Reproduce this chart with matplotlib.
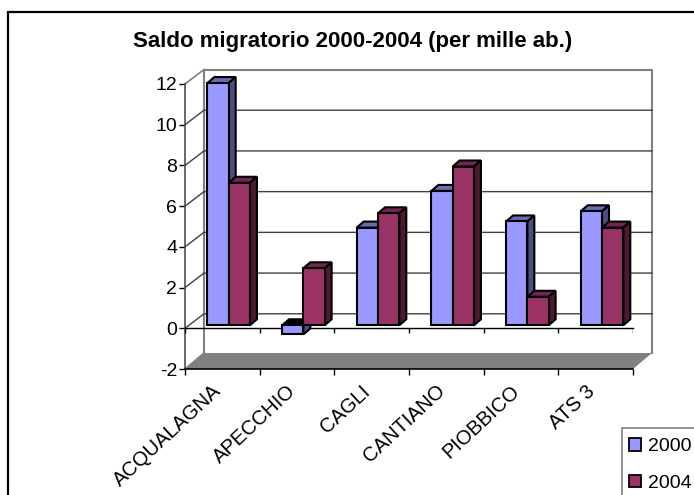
import matplotlib
matplotlib.use("Agg")
import matplotlib.pyplot as plt
from matplotlib.patches import Polygon, Rectangle, Patch

plt.rcParams['font.family'] = ['Liberation Sans', 'DejaVu Sans']
plt.rcParams['axes.unicode_minus'] = False

categories = ["ACQUALAGNA", "APECCHIO", "CAGLI", "CANTIANO", "PIOBBICO", "ATS 3"]
values_2000 = [11.9, -0.45, 4.8, 6.6, 5.1, 5.6]
values_2004 = [7.0, 2.8, 5.5, 7.8, 1.4, 4.8]
y_ticks = [-2, 0, 2, 4, 6, 8, 10, 12]

W, H = 694, 495
fig = plt.figure(figsize=(W / 100, H / 100), dpi=100, facecolor='white')

# outer chart frame, runs off the right and bottom edge
fig.add_artist(Rectangle((8 / W, -0.1), 1, 1.1 - 11.5 / H, transform=fig.transFigure,
                         fc='white', ec='black', lw=1.6, zorder=-1))

ax = fig.add_axes([185 / W, (H - 369) / H, 448 / W, 285 / H])
ax.set_xlim(0, 6)
ax.set_ylim(-2, 12)
ax.patch.set_alpha(0)
for s in ax.spines.values():
    s.set_visible(False)

# pixel sizes in data units
px = 6 / 448
py = 14 / 285
wall_dx, wall_dy = 19 * px, 14.5 * py
bar_dx, bar_dy = 7 * px, 6 * py
shift_y = 3 * py

# walls and floor
ax.add_patch(Polygon([(0, -2), (6, -2), (6 + wall_dx, -2 + 16 * py), (wall_dx, -2 + 16 * py)],
                     fc='#808080', ec='none', zorder=1, clip_on=False))
ax.plot([wall_dx, wall_dx, 6 + wall_dx, 6 + wall_dx],
        [-2 + 16 * py, 12 + wall_dy, 12 + wall_dy, -2 + 16 * py],
        color='#808080', lw=1.5, zorder=1, clip_on=False)
ax.plot([0, wall_dx], [12, 12 + wall_dy], color='#808080', lw=1.2, zorder=1, clip_on=False)
ax.plot([0, wall_dx], [-2, -2 + 16 * py], color='#808080', lw=1.2, zorder=1, clip_on=False)
for v in y_ticks[1:-1]:
    ax.plot([0, wall_dx, 6 + wall_dx], [v, v + wall_dy, v + wall_dy],
            color='#404040', lw=1, zorder=1, clip_on=False)

# front axes
ax.plot([0, 0], [-2, 12], color='#505050', lw=1.2, zorder=2, clip_on=False)
ax.plot([0, 6], [-2, -2], color='black', lw=1.2, zorder=2, clip_on=False)
ax.plot([0, 6], [0, 0], color='black', lw=1, zorder=2, clip_on=False)
ax.vlines(range(7), 0 - 5 * py, 0, color='black', lw=1, zorder=2)
ax.set_xticks(range(7))
ax.set_xticklabels([])
ax.set_xticks([i + 0.36 for i in range(6)], minor=True)
ax.set_xticklabels(categories, minor=True, rotation=43, ha='right', rotation_mode='anchor',
                   fontsize=14.5)
ax.set_yticks(y_ticks)
ax.tick_params(axis='x', which='major', length=4, width=1)
ax.tick_params(axis='x', which='minor', length=0, pad=9)
ax.tick_params(axis='y', length=4, width=1, labelsize=14, pad=1.5)


def draw_bar(x, width, value, front, top, side, z):
    y0, y1 = shift_y, value + shift_y
    hi = max(y0, y1)
    ax.bar(x, value, width, bottom=shift_y, align='edge', color=front, edgecolor='black',
           lw=1.5, zorder=z + 1, clip_on=False)
    cap = 'black' if value < 0 else top
    ax.add_patch(Polygon([(x, hi), (x + bar_dx, hi + bar_dy), (x + width + bar_dx, hi + bar_dy),
                          (x + width, hi)], fc=cap, ec='black', lw=1.5, zorder=z, clip_on=False))
    low = min(y0, y1)
    ax.add_patch(Polygon([(x + width, low), (x + width + bar_dx, low + bar_dy),
                          (x + width + bar_dx, hi + bar_dy), (x + width, hi)],
                         fc=side, ec='black', lw=1.5, zorder=z, clip_on=False))


start, bar_w = 0.30, 0.285
for i in range(len(categories)):
    draw_bar(i + start, bar_w, values_2000[i], '#9999ff', '#6b6bb3', '#4d4d80', 3 + 2 * i)
    draw_bar(i + start + bar_w, bar_w, values_2004[i], '#993366', '#732650', '#4d1a33', 4 + 2 * i)

fig.text(353 / W, 1 - 42 / H, "Saldo migratorio 2000-2004 (per mille ab.)", fontsize=16,
         fontweight='bold', ha='center', va='center')

# legend box hangs off the corner, so frame and entries are placed apart
fig.add_artist(Rectangle((622 / W, -0.1), 1, 0.1 + (H - 428) / H, transform=fig.transFigure,
                         fc='white', ec='#808080', lw=1.2, zorder=3))
handles = [Patch(fc='#9999ff', ec='black', lw=1.3, label='2000'),
           Patch(fc='#993366', ec='black', lw=1.3, label='2004')]
leg = fig.legend(handles=handles, loc='upper left', bbox_to_anchor=(629 / W, 1 - 438 / H),
                 frameon=False, fontsize=14, handlelength=0.62, handleheight=0.62,
                 handletextpad=0.36, labelspacing=1.0, borderpad=0, borderaxespad=0)
leg.set_zorder(4)

fig.savefig("out.png", dpi=100)
